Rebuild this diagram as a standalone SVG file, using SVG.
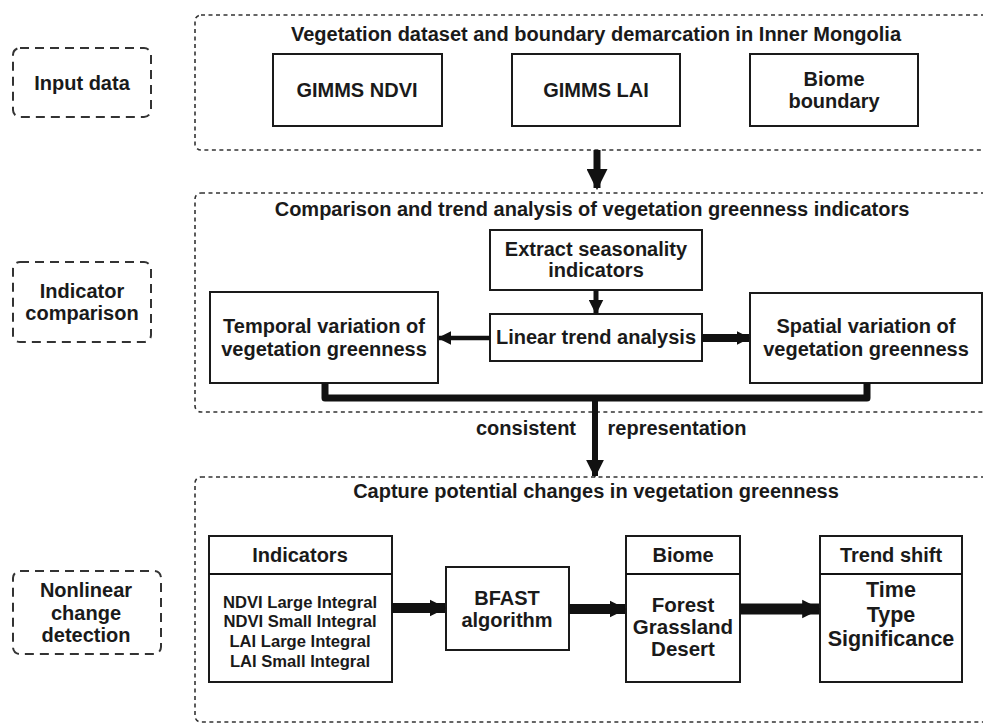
<svg xmlns="http://www.w3.org/2000/svg" width="983" height="724" viewBox="0 0 983 724">
<style>
text{font-family:"Liberation Sans",Arial,sans-serif;font-weight:bold;fill:#1a1a1a;text-anchor:middle}
.t{font-size:20px}
.b{font-size:20.5px}
.c{font-size:21.5px}
.s{font-size:16.6px}
.panel{fill:none;stroke:#333;stroke-width:1.6;stroke-dasharray:4 3.5}
.lab{fill:none;stroke:#333;stroke-width:2;stroke-dasharray:9 6}
.box{fill:#fff;stroke:#1a1a1a;stroke-width:2}
.ln{stroke:#111;fill:none}
</style>
<defs>
<marker id="ah" viewBox="0 0 10 10" refX="9" refY="5" markerWidth="3" markerHeight="3" orient="auto" markerUnits="strokeWidth"><path d="M0,0 L10,5 L0,10 z" fill="#111"/></marker>
<marker id="ah2" viewBox="0 0 10 10" refX="9" refY="5" markerWidth="1.7" markerHeight="2.3" orient="auto" markerUnits="strokeWidth"><path d="M0,0 L10,5 L0,10 z" fill="#111"/></marker>
</defs>
<rect width="983" height="724" fill="#fff"/>

<g id="panel1">
<rect class="panel" x="195" y="15" width="800" height="135" rx="6"/>
<text class="t" x="596" y="41">Vegetation dataset and boundary demarcation in Inner Mongolia</text>
</g>
<g id="panel2">
<rect class="panel" x="195" y="193" width="800" height="219" rx="6"/>
<text class="t" x="592" y="216">Comparison and trend analysis of vegetation greenness indicators</text>
</g>
<g id="panel3">
<rect class="panel" x="195" y="477" width="800" height="245" rx="6"/>
<text class="t" x="596" y="498">Capture potential changes in vegetation greenness</text>
</g>

<g id="label-input">
<rect class="lab" x="13" y="48" width="138" height="69" rx="7"/>
<text class="t" x="82" y="90">Input data</text>
</g>
<g id="label-indicator">
<rect class="lab" x="13" y="262" width="138" height="80" rx="7"/>
<text class="t" x="82" y="298">Indicator</text>
<text class="t" x="82" y="320">comparison</text>
</g>
<g id="label-nonlinear">
<rect class="lab" x="13" y="571" width="148" height="83" rx="7"/>
<text class="t" x="86" y="597">Nonlinear</text>
<text class="t" x="86" y="620">change</text>
<text class="t" x="86" y="642">detection</text>
</g>

<g id="ndvi">
<rect class="box" x="273" y="54" width="169" height="72"/>
<text class="t" x="357" y="97">GIMMS NDVI</text>
</g>
<g id="lai">
<rect class="box" x="512" y="54" width="168" height="72"/>
<text class="t" x="596" y="97">GIMMS LAI</text>
</g>
<g id="biome-boundary">
<rect class="box" x="750" y="54" width="168" height="72"/>
<text class="t" x="834" y="86">Biome</text>
<text class="t" x="834" y="108">boundary</text>
</g>

<g id="extract">
<rect class="box" x="490" y="230" width="212" height="60"/>
<text class="t" x="596" y="256">Extract seasonality</text>
<text class="t" x="596" y="277">indicators</text>
</g>
<g id="linear">
<rect class="box" x="490" y="314" width="212" height="47"/>
<text class="t" x="596" y="344">Linear trend analysis</text>
</g>
<g id="temporal">
<rect class="box" x="210" y="292" width="228" height="91"/>
<text class="t" x="324" y="333">Temporal variation of</text>
<text class="t" x="324" y="356">vegetation greenness</text>
</g>
<g id="spatial">
<rect class="box" x="750" y="293" width="232" height="90"/>
<text class="t" x="866" y="333">Spatial variation of</text>
<text class="t" x="866" y="356">vegetation greenness</text>
</g>

<g id="indicators">
<rect class="box" x="209" y="536" width="183" height="146"/>
<line class="ln" x1="209" y1="574" x2="392" y2="574" stroke-width="2"/>
<text class="t" x="300" y="562">Indicators</text>
<text class="s" x="300" y="608">NDVI Large Integral</text>
<text class="s" x="300" y="627">NDVI Small Integral</text>
<text class="s" x="300" y="647">LAI Large Integral</text>
<text class="s" x="300" y="667">LAI Small Integral</text>
</g>
<g id="bfast">
<rect class="box" x="446" y="567" width="123" height="83"/>
<text class="t" x="507" y="605">BFAST</text>
<text class="t" x="507" y="627">algorithm</text>
</g>
<g id="biome">
<rect class="box" x="626" y="536" width="114" height="146"/>
<line class="ln" x1="626" y1="574" x2="740" y2="574" stroke-width="2"/>
<text class="t" x="683" y="562">Biome</text>
<text class="b" x="683" y="612">Forest</text>
<text class="b" x="683" y="634">Grassland</text>
<text class="b" x="683" y="656">Desert</text>
</g>
<g id="trend">
<rect class="box" x="820" y="536" width="142" height="146"/>
<line class="ln" x1="820" y1="574" x2="962" y2="574" stroke-width="2"/>
<text class="t" x="891" y="562">Trend shift</text>
<text class="c" x="891" y="597">Time</text>
<text class="c" x="891" y="622">Type</text>
<text class="c" x="891" y="646">Significance</text>
</g>

<g id="connectors">
<line class="ln" x1="597" y1="150" x2="597" y2="188" stroke-width="7" marker-end="url(#ah)"/>
<line class="ln" x1="596" y1="290" x2="596" y2="313" stroke-width="5" marker-end="url(#ah)"/>
<line class="ln" x1="490" y1="338" x2="439" y2="338" stroke-width="4.5" marker-end="url(#ah)"/>
<line class="ln" x1="702" y1="338" x2="749" y2="338" stroke-width="8" marker-end="url(#ah2)"/>
<polyline class="ln" points="325,383 325,398 867,398 867,383" stroke-width="7" stroke-linejoin="round"/>
<line class="ln" x1="595" y1="398" x2="595" y2="476" stroke-width="6" marker-end="url(#ah)"/>
<text class="t" x="526" y="435">consistent</text>
<text class="t" x="677" y="435">representation</text>
<line class="ln" x1="392" y1="608" x2="445" y2="608" stroke-width="10" marker-end="url(#ah2)"/>
<line class="ln" x1="569" y1="609" x2="625" y2="609" stroke-width="10" marker-end="url(#ah2)"/>
<line class="ln" x1="740" y1="609" x2="819" y2="609" stroke-width="11" marker-end="url(#ah2)"/>
</g>
</svg>
